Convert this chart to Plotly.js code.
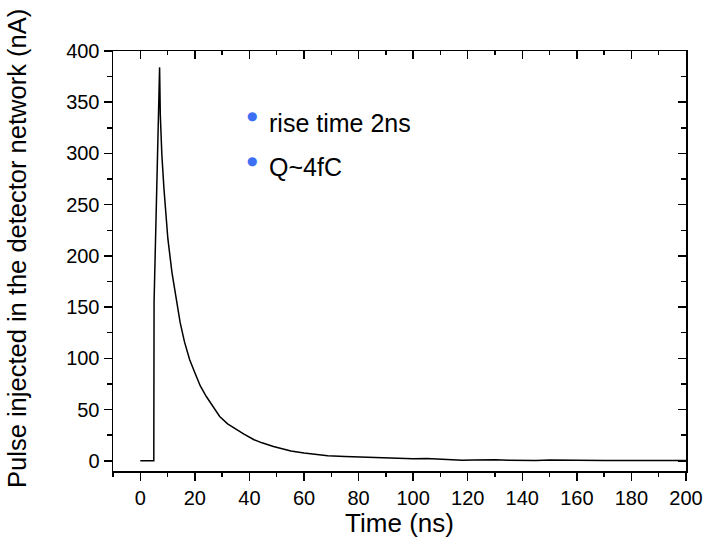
<!DOCTYPE html>
<html>
<head>
<meta charset="utf-8">
<script src="https://cdn.plot.ly/plotly-3.0.1.min.js"></script>
<style>html,body{margin:0;padding:0;background:#fff;}#chart{width:706px;height:549px;}</style>
</head>
<body>
<div id="chart"></div>
<script>
// Time (ns)
const timeNs = [0, 4.95, 5.05, 5.98, 6.7, 7.08, 7.33, 7.9, 8.66, 10.1, 11.6, 13.2, 14.6, 16.2, 18.1, 20, 22, 24.2, 27, 29.1, 32, 35.2, 38, 41.7, 44.6, 48.8, 52, 55.2, 60, 65, 68.7, 75, 80.8, 85, 90, 95, 100, 105, 110, 114, 118, 122, 126, 130, 135, 140, 145, 150, 155, 160, 170, 180, 190, 200];
// Pulse current (nA)
const pulseNA = [0, 0, 155, 266, 338, 384, 338, 299, 266, 217, 184, 156, 135, 116, 98.6, 86, 73, 62.7, 51, 43.2, 36, 30.2, 26, 20.5, 17.5, 14, 11.5, 9.5, 7.5, 5.8, 5, 4.2, 3.7, 3, 2.2, 2, 2, 2.3, 1.5, 0.8, 0.5, 0.8, 1.2, 1, 0.6, 0.2, 0.3, 0.8, 0.6, 0.3, 0.2, 0.3, 0.2, 0.3];
const xRange = [-10, 200];
const yRange = [-10, 400];
const notes = ["rise time 2ns", "Q~4fC"];
const xTitle = "Time (ns)";
const yTitle = "Pulse injected in the detector network (nA)";

const font = "Liberation Sans, Arial, sans-serif";
const data = [
  {x: timeNs, y: pulseNA, type: 'scatter', mode: 'lines', line: {color: '#000', width: 1.5}, hoverinfo: 'skip', showlegend: false},
  {x: timeNs, y: pulseNA, xaxis: 'x2', yaxis: 'y2', type: 'scatter', mode: 'lines', line: {color: 'rgba(0,0,0,0)', width: 0}, hoverinfo: 'skip', showlegend: false}
];
const baseAx = {showgrid: false, zeroline: false, showline: true, linecolor: '#000', linewidth: 1.5, tickcolor: '#000', tickwidth: 1.5};
const layout = {
  width: 706, height: 549,
  margin: {l: 113, r: 20, t: 51, b: 78},
  paper_bgcolor: '#fff', plot_bgcolor: '#fff',
  font: {family: font, color: '#000'},
  showlegend: false,
  xaxis: Object.assign({}, baseAx, {range: xRange, tick0: 0, dtick: 20, ticks: 'outside', ticklen: 8,
    minor: {dtick: 10, tick0: 0, ticks: 'outside', ticklen: 4, tickcolor: '#000', tickwidth: 1.5},
    tickfont: {size: 20, family: font}, title: {text: xTitle, font: {size: 26, family: font}, standoff: 5}}),
  yaxis: Object.assign({}, baseAx, {range: yRange, tick0: 0, dtick: 50, ticks: 'outside', ticklen: 8,
    minor: {dtick: 25, tick0: 0, ticks: 'outside', ticklen: 5, tickcolor: '#000', tickwidth: 1.5},
    tickfont: {size: 20, family: font}}),
  xaxis2: Object.assign({}, baseAx, {range: xRange, overlaying: 'x', side: 'top', anchor: 'y2', tick0: 0, dtick: 20, ticks: 'inside', ticklen: 8,
    minor: {dtick: 10, tick0: 0, ticks: 'inside', ticklen: 4, tickcolor: '#000', tickwidth: 1.5}, showticklabels: false}),
  yaxis2: Object.assign({}, baseAx, {range: yRange, overlaying: 'y', side: 'right', anchor: 'x2', tick0: 0, dtick: 50, ticks: 'inside', ticklen: 8,
    minor: {dtick: 25, tick0: 0, ticks: 'inside', ticklen: 5, tickcolor: '#000', tickwidth: 1.5}, showticklabels: false}),
  annotations: [
    {xref: 'paper', yref: 'paper', x: -0.1666, y: 0.53, text: yTitle, textangle: -90, showarrow: false, xanchor: 'center', yanchor: 'middle', font: {size: 25.5, color: '#000', family: font}},
    {xref: 'paper', yref: 'paper', x: 0.2425, y: 0.845, text: '●', showarrow: false, xanchor: 'center', yanchor: 'middle', font: {size: 12, color: '#3d6ff5', family: "DejaVu Sans"}},
    {xref: 'paper', yref: 'paper', x: 0.268, y: 0.8287, text: notes[0], showarrow: false, xanchor: 'left', yanchor: 'middle', font: {size: 25, color: '#000', family: font}},
    {xref: 'paper', yref: 'paper', x: 0.2425, y: 0.738, text: '●', showarrow: false, xanchor: 'center', yanchor: 'middle', font: {size: 12, color: '#3d6ff5', family: "DejaVu Sans"}},
    {xref: 'paper', yref: 'paper', x: 0.268, y: 0.724, text: notes[1], showarrow: false, xanchor: 'left', yanchor: 'middle', font: {size: 25, color: '#000', family: font}}
  ]
};
Plotly.newPlot('chart', data, layout, {displayModeBar: false, staticPlot: true});
</script>
</body>
</html>
